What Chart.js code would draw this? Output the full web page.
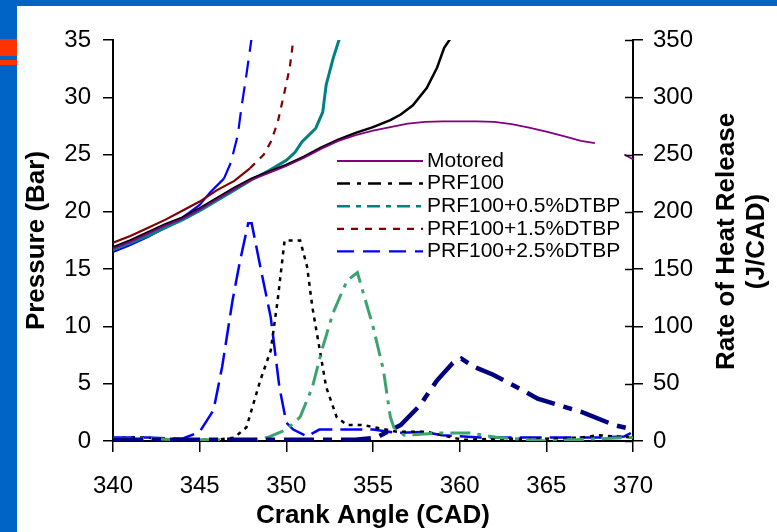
<!DOCTYPE html>
<html>
<head>
<meta charset="utf-8">
<script src="https://cdn.jsdelivr.net/npm/chart.js@4.4.1/dist/chart.umd.min.js"></script>
<style>
  html, body { margin:0; padding:0; width:777px; height:532px; overflow:hidden; background:#0063C6; }
  #sheet { position:absolute; left:17px; top:6px; width:760px; height:526px; background:#fff; }
  .bar { position:absolute; left:0; width:17px; background:#FF3300; }
  #c { position:absolute; left:0; top:0; }
</style>
</head>
<body>
<div id="sheet"></div>
<div class="bar" style="top:39px;height:17px"></div>
<div class="bar" style="top:60px;height:5px"></div>
<canvas id="c" width="777" height="532"></canvas>
<script>
// ---------- data ----------
// Cylinder pressure (Bar), left axis
const cadMotored = [340,341,342,343,344,345,346,347,348,349,350,351,352,353,354,355,356,357,358,359,360,361,362,363,364,365,366,367,367.8,368.6,369.5,370];
const pMotored   = [16.8,17.4,18.1,18.8,19.4,20.2,21.1,22.0,22.8,23.4,24.0,24.7,25.5,26.2,26.7,27.1,27.4,27.7,27.85,27.9,27.9,27.9,27.85,27.65,27.35,27.0,26.6,26.2,26.0,null,25.0,24.6];

const cadPrf100  = [340,341,342,343,344,345,346,347,348,349,350,351,352,353,354,355,356,356.6,357.3,358.1,358.7,359.1,359.5];
const pPrf100    = [16.9,17.5,18.2,18.9,19.5,20.3,21.2,22.1,22.9,23.5,24.1,24.8,25.6,26.3,26.9,27.4,28.0,28.5,29.3,30.8,32.6,34.3,35.2];

const cadDtbp05  = [340,341,342,343,344,345,346,347,348,349,350,350.5,350.9,351.7,352.1,352.3,352.7,353.1];
const pDtbp05    = [16.7,17.3,17.9,18.6,19.3,20.1,21.0,21.9,22.8,23.6,24.5,25.2,26.1,27.3,28.7,31.1,33.4,35.3];

const cadDtbp15  = [340,341,342,343,344,345,346,347,347.9,348.7,349.1,349.5,349.9,350.2,350.4];
const pDtbp15    = [17.3,17.9,18.6,19.3,20.1,20.9,21.9,22.7,23.8,25.0,26.1,27.8,30.5,32.6,35.0];

const cadDtbp25  = [340,341,342,343,344,345,345.6,346.4,346.8,347.2,347.4,347.7,348.0];
const pDtbp25    = [16.5,17.1,17.8,18.6,19.5,20.6,21.7,22.9,24.3,26.7,29.0,32.0,35.2];

// Rate of heat release (J/CAD), right axis
const cadHrPrf100 = [340,345,350,354,355.2,356.6,357.7,358.7,359.6,360.1,360.8,361.9,363.3,364.5,366,367.1,368.9,370];
const hrPrf100    = [1,1,1,1,3,14,31,53,68,72,65,58,47,37,30,25,14,10];

const cadHrDtbp05 = [340,342,344,346,348,348.9,350,350.8,351.5,352.1,352.7,353.5,354.1,355,355.6,356,356.2,356.8,358.9,360.6,362.2,365,366.5,369.8,370];
const hrDtbp05    = [2,2,1,1,1,3,10,21,47,82,112,140,147,100,62,21,12,5,7,7,3,0,1,3,3];

const cadHrDtbp15 = [340,341,342,343,345,346,347,347.7,348.5,349.1,349.5,349.9,350.8,351.2,351.5,351.9,352.3,352.9,353.5,354.4,355.4,356.4,358.1,360.2,362,365,367,368,370];
const hrDtbp15    = [2,3,3,1,1,1,3,12,53,79,123,175,175,152,117,82,47,21,14,14,11,8,8,1,2,2,3,5,3];

const cadHrDtbp25 = [340,342,344,345,345.8,346.3,346.9,347.3,347.8,348,348.5,349.1,349.6,350,350.4,351.2,351.9,353.5,355,356.4,357.9,359,361.2,365,368,369.5,370];
const hrDtbp25    = [3,3,2,8,27,65,123,155,190,190,152,108,47,16,10,4,10,10,10,7,8,5,3,3,3,4,8];

const legendLabels = ['Motored','PRF100','PRF100+0.5%DTBP','PRF100+1.5%DTBP','PRF100+2.5%DTBP'];
const xTicks = [340,345,350,355,360,365,370];

// ---------- chart ----------
const FONT = "'Liberation Sans', Arial, Helvetica, sans-serif";
const zip = (xs, ys) => xs.map((x, i) => ({x: x, y: ys[i]}));

function line(label, xs, ys, color, width, dash, axis, legend, solidBelow) {
  const ds = {
    label: label, data: zip(xs, ys), yAxisID: axis,
    borderColor: color, backgroundColor: color, borderWidth: width,
    borderDash: dash, pointRadius: 0, tension: 0, fill: false,
    showInLegend: legend
  };
  if (solidBelow !== undefined) {
    ds.segment = { borderDash: c => (c.p1.parsed.y > solidBelow ? dash : []) };
  }
  return ds;
}

const datasets = [
  line(legendLabels[0], cadMotored, pMotored, '#800080', 1.8, [], 'y', true),
  line(legendLabels[1], cadPrf100, pPrf100, '#000000', 2.5, [13,7,4,7], 'y', true, 99),
  line(legendLabels[2], cadDtbp05, pDtbp05, '#008080', 3, [13,6,5,6], 'y', true, 99),
  line(legendLabels[3], cadDtbp15, pDtbp15, '#800000', 2.2, [7,7], 'y', true, 24),
  line(legendLabels[4], cadDtbp25, pDtbp25, '#0000FF', 2.2, [17,9], 'y', true, 23),
  line('PRF100 RoHR', cadHrPrf100, hrPrf100, '#000080', 4.5, [30,9,9,9], 'y2', false),
  line('PRF100+0.5%DTBP RoHR', cadHrDtbp05, hrDtbp05, '#3CA36E', 3, [20,7,4,7], 'y2', false),
  line('PRF100+1.5%DTBP RoHR', cadHrDtbp15, hrDtbp15, '#000000', 2.5, [4,5], 'y2', false),
  line('PRF100+2.5%DTBP RoHR', cadHrDtbp25, hrDtbp25, '#0000FF', 2.5, [22,8], 'y2', false)
];

const insideLegend = {
  id: 'insideLegend',
  afterDatasetsDraw(chart) {
    const ctx = chart.ctx, a = chart.chartArea;
    const x0 = a.left + 224, y0 = a.top + 121, rowH = 22.6, len = 86;
    ctx.save();
    ctx.font = '21px ' + FONT;
    ctx.textBaseline = 'middle';
    const items = chart.data.datasets.filter(d => d.showInLegend);
    items.forEach((d, i) => {
      const y = y0 + i * rowH;
      ctx.beginPath();
      ctx.setLineDash(d.borderDash || []);
      ctx.lineWidth = Math.min(d.borderWidth, 2.5);
      ctx.strokeStyle = d.borderColor;
      ctx.moveTo(x0, y); ctx.lineTo(x0 + len, y); ctx.stroke();
      ctx.setLineDash([]);
      ctx.fillStyle = '#000';
      ctx.fillText(d.label, x0 + 90, y);
    });
    // partially hidden next row of the second legend
    const yh = y0 + items.length * rowH;
    ctx.beginPath();
    ctx.rect(x0, yh - 14, 200, 6.5);
    ctx.clip();
    ctx.fillStyle = '#000';
    ctx.fillText('Motored', x0 + 90, yh + 2);
    ctx.restore();
  }
};

const rightAxisExtras = {
  id: 'rightAxisExtras',
  afterDraw(chart) {
    const ctx = chart.ctx, a = chart.chartArea, s = chart.scales.y2;
    ctx.save();
    ctx.strokeStyle = '#000';
    ctx.lineWidth = 1.5;
    s.ticks.forEach(t => {
      const y = Math.round(s.getPixelForValue(t.value)) + 0.5;
      ctx.beginPath(); ctx.moveTo(a.right - 8, y); ctx.lineTo(a.right, y); ctx.stroke();
    });
    // right axis title, reading bottom to top
    ctx.fillStyle = '#000';
    ctx.font = 'bold 26px ' + FONT;
    ctx.textAlign = 'center';
    ctx.textBaseline = 'middle';
    const cy = (a.top + a.bottom) / 2 + 1;
    ctx.translate(a.right + 94, cy);
    ctx.rotate(-Math.PI / 2);
    ctx.fillText('Rate of Heat Release', 0, 0);
    ctx.fillText('(J/CAD)', 0, 30);
    ctx.restore();
  }
};

new Chart(document.getElementById('c'), {
  type: 'line',
  data: { datasets: datasets },
  plugins: [insideLegend, rightAxisExtras],
  options: {
    responsive: false, animation: false, devicePixelRatio: 1,
    layout: { padding: { top: 40, left: 0, right: 0, bottom: 0 } },
    plugins: { legend: { display: false }, tooltip: { enabled: false } },
    scales: {
      x: {
        type: 'linear', min: 340, max: 370,
        afterBuildTicks: s => { s.ticks = xTicks.map(v => ({value: v})); },
        ticks: { font: { family: FONT, size: 24 }, color: '#000', padding: 20, maxRotation: 0 },
        grid: { drawOnChartArea: false, tickLength: 11, color: '#000', lineWidth: 1.5 },
        border: { color: '#000', width: 2 },
        title: { display: true, text: 'Crank Angle (CAD)', color: '#000',
                 font: { family: FONT, size: 26, weight: 'bold', lineHeight: 1 }, padding: { top: 0, bottom: 3 } },
        afterFit: s => { s.height = 91; }
      },
      y: {
        position: 'left', min: 0, max: 35,
        ticks: { stepSize: 5, font: { family: FONT, size: 24 }, color: '#000', padding: 12 },
        grid: { drawOnChartArea: false, tickLength: 10, color: '#000', lineWidth: 1.5 },
        border: { color: '#000', width: 2 },
        title: { display: true, text: 'Pressure (Bar)', color: '#000',
                 font: { family: FONT, size: 26, weight: 'bold', lineHeight: 1 }, padding: { top: 24, bottom: 0 } },
        afterFit: s => { s.width = 113; }
      },
      y2: {
        position: 'right', min: 0, max: 350,
        ticks: { stepSize: 50, font: { family: FONT, size: 24 }, color: '#000', padding: 10 },
        grid: { drawOnChartArea: false, tickLength: 10, color: '#000', lineWidth: 1.5 },
        border: { color: '#000', width: 2 },
        afterFit: s => { s.width = 144; }
      }
    }
  }
});
</script>
</body>
</html>
